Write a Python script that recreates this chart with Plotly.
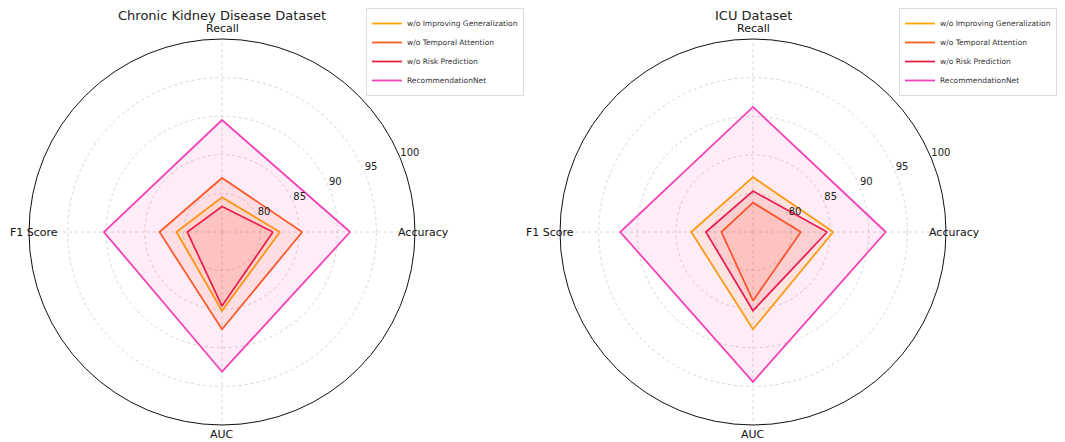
import plotly.graph_objects as go

# Metrics around the radar (counter-clockwise from the right)
metrics = ["Accuracy", "Recall", "F1 Score", "AUC"]
angles = [0, 90, 180, 270]

models = ["w/o Improving Generalization", "w/o Temporal Attention",
          "w/o Risk Prediction", "RecommendationNet"]
colors = ["#FFA500", "#FF5E1A", "#E91E47", "#F442B8"]

# Chronic Kidney Disease dataset: Accuracy, Recall, F1 Score, AUC
ckd_improving = [82.5, 79.5, 80.9, 85.2]
ckd_temporal = [85.4, 82.0, 83.1, 87.6]
ckd_risk = [81.6, 78.3, 79.5, 84.6]
ckd_recnet = [91.6, 89.5, 90.3, 93.1]

# ICU dataset
icu_improving = [85.4, 82.1, 83.0, 87.6]
icu_temporal = [81.2, 78.8, 79.1, 83.9]
icu_risk = [84.6, 80.3, 81.1, 85.2]
icu_recnet = [92.2, 91.2, 92.2, 94.4]

radial_ticks = [80, 85, 90, 95, 100]
radial_range = [75, 100]
tick_label_angle = 22.5

# the page body adds an 8px margin, so the figure is drawn 8px smaller
OFF = 8
W, H = 1065 - OFF, 442 - OFF
R = 193  # circle radius in px
centers = [(222 - OFF, 232 - OFF), (753 - OFF, 232 - OFF)]
titles = ["Chronic Kidney Disease Dataset", "ICU Dataset"]
datasets = [
    [ckd_improving, ckd_temporal, ckd_risk, ckd_recnet],
    [icu_improving, icu_temporal, icu_risk, icu_recnet],
]
label_size = 11


def rgba(hex_color, a):
    h = hex_color.lstrip("#")
    r, g, b = int(h[0:2], 16), int(h[2:4], 16), int(h[4:6], 16)
    return f"rgba({r},{g},{b},{a})"


fig = go.Figure()

for i, series in enumerate(datasets):
    subplot = "polar" if i == 0 else "polar2"
    legend = "legend" if i == 0 else "legend2"
    for name, color, vals in zip(models, colors, series):
        r = vals + vals[:1]
        theta = angles + angles[:1]
        fig.add_trace(go.Scatterpolar(
            r=r, theta=theta, subplot=subplot, mode="none",
            fill="toself", fillcolor=rgba(color, 0.1),
            showlegend=False, hoverinfo="skip",
        ))
        fig.add_trace(go.Scatterpolar(
            r=r, theta=theta, subplot=subplot, mode="lines",
            line=dict(color=color, width=1.8),
            name=name, legend=legend,
        ))
    # radial tick labels sitting on the 22.5 degree spoke, matplotlib style
    fig.add_trace(go.Scatterpolar(
        r=radial_ticks, theta=[tick_label_angle] * len(radial_ticks),
        subplot=subplot, mode="text", text=[str(t) for t in radial_ticks],
        textposition="top right", cliponaxis=False,
        textfont=dict(family="DejaVu Sans", size=10, color="#222"),
        showlegend=False, hoverinfo="skip",
    ))

annotations = []
polar_layouts = {}
for i, (cx, cy) in enumerate(centers):
    key = "polar" if i == 0 else "polar2"
    polar_layouts[key] = dict(
        domain=dict(x=[(cx - R) / W, (cx + R) / W],
                    y=[(H - cy - R) / H, (H - cy + R) / H]),
        bgcolor="white",
        radialaxis=dict(
            range=radial_range, tickvals=radial_ticks,
            showline=False, ticks="", showticklabels=False,
            gridcolor="#d6d6d6", griddash="dot", gridwidth=1,
        ),
        angularaxis=dict(
            thetaunit="degrees", rotation=0, direction="counterclockwise",
            tickvals=angles, showticklabels=False, ticks="",
            showline=True, linecolor="#111", linewidth=1,
            gridcolor="#d6d6d6", griddash="dot", gridwidth=1,
        ),
    )
    font = dict(family="DejaVu Sans", size=label_size, color="#111")
    # metric labels around the circle
    annotations.append(dict(x=(cx + R - 19) / W, y=(H - cy) / H,
                            xanchor="left", yanchor="middle", text=metrics[0]))
    annotations.append(dict(x=cx / W, y=(H - cy + R + 2) / H,
                            xanchor="center", yanchor="bottom", text=metrics[1]))
    right_edge = cx - R + 16
    if right_edge - 48 < 0:
        annotations.append(dict(x=0, y=(H - cy) / H, xanchor="left",
                                yanchor="middle", text=metrics[2]))
    else:
        annotations.append(dict(x=right_edge / W, y=(H - cy) / H,
                                xanchor="right", yanchor="middle", text=metrics[2]))
    annotations.append(dict(x=cx / W, y=(H - cy - R - 1) / H,
                            xanchor="center", yanchor="top", text=metrics[3]))
    for a in annotations[-4:]:
        a.update(xref="paper", yref="paper", showarrow=False, font=font)
    annotations.append(dict(
        x=cx / W, y=1, yshift=2, xref="paper", yref="paper",
        text=titles[i], showarrow=False, xanchor="center", yanchor="top",
        font=dict(family="DejaVu Sans", size=13, color="#222"),
    ))

legend_style = dict(
    yanchor="top", y=1, xanchor="left",
    bgcolor="white", bordercolor="#dddddd", borderwidth=1,
    font=dict(family="DejaVu Sans", size=7.5, color="#333"),
    itemwidth=30, tracegroupgap=0,
)

fig.update_layout(
    width=W, height=H,
    margin=dict(l=0, r=0, t=0, b=0, autoexpand=False),
    paper_bgcolor="white",
    annotations=annotations,
    legend=dict(x=(366 - OFF) / W, **legend_style),
    legend2=dict(x=(899 - OFF) / W, **legend_style),
    **polar_layouts,
)

fig.write_html("out.html")
